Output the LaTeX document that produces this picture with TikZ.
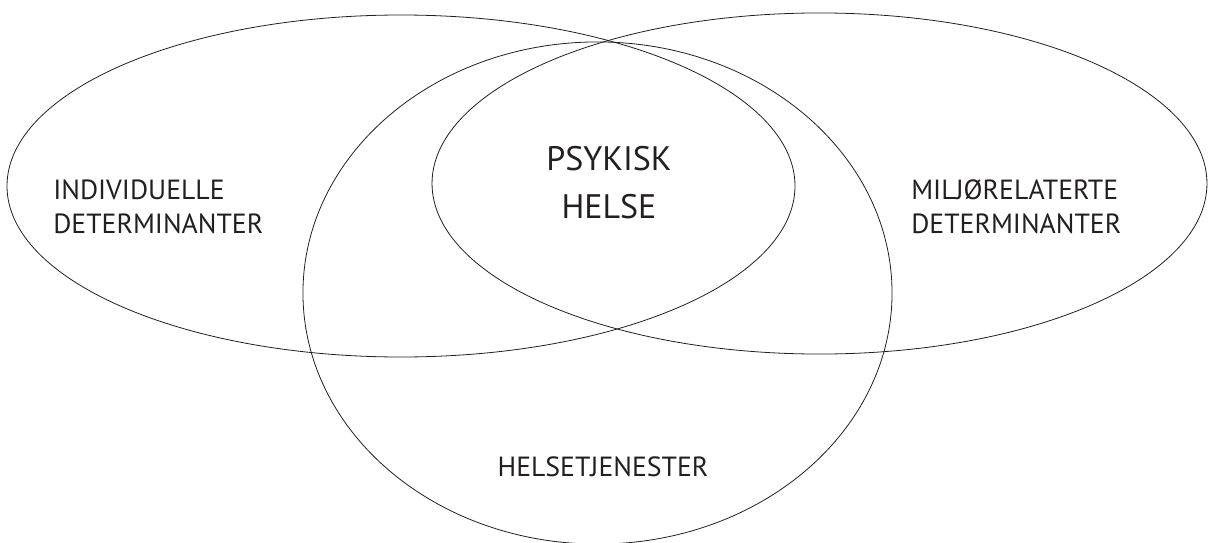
\documentclass[tikz,border=0pt]{standalone}
\usepackage{fontspec}
\setmainfont{PT Sans}
\definecolor{ink}{HTML}{231F20}
\begin{document}
\begin{tikzpicture}[x=0.75pt,y=-0.75pt,
  ring/.style={draw=ink,line width=0.6pt},
  lbl/.style={text=ink,font=\fontsize{20.8pt}{25.5pt}\selectfont,align=left,inner sep=0pt},
  big/.style={text=ink,font=\fontsize{25.5pt}{36pt}\selectfont,align=center,inner sep=0pt}]
\useasboundingbox (0,0) rectangle (1208,543);
\coordinate (cl) at (401,186);
\coordinate (cr) at (819.5,183.5);
\coordinate (cm) at (597.5,293);
\draw[ring] (cl) ellipse [x radius=295.5pt, y radius=128.25pt];
\draw[ring] (cr) ellipse [x radius=290.6pt, y radius=127.9pt];
\draw[ring] (cm) ellipse [x radius=220.9pt, y radius=188.3pt];
\node[big] (psy) at (609,183) {PSYKISK\\HELSE};
\node[lbl,anchor=west] (ind) at (53,207) {INDIVIDUELLE\\DETERMINANTER};
\node[lbl,anchor=west] (mil) at (911,207) {MILJØRELATERTE\\DETERMINANTER};
\node[lbl] (hel) at (603,467) {HELSETJENESTER};
\end{tikzpicture}
\end{document}
